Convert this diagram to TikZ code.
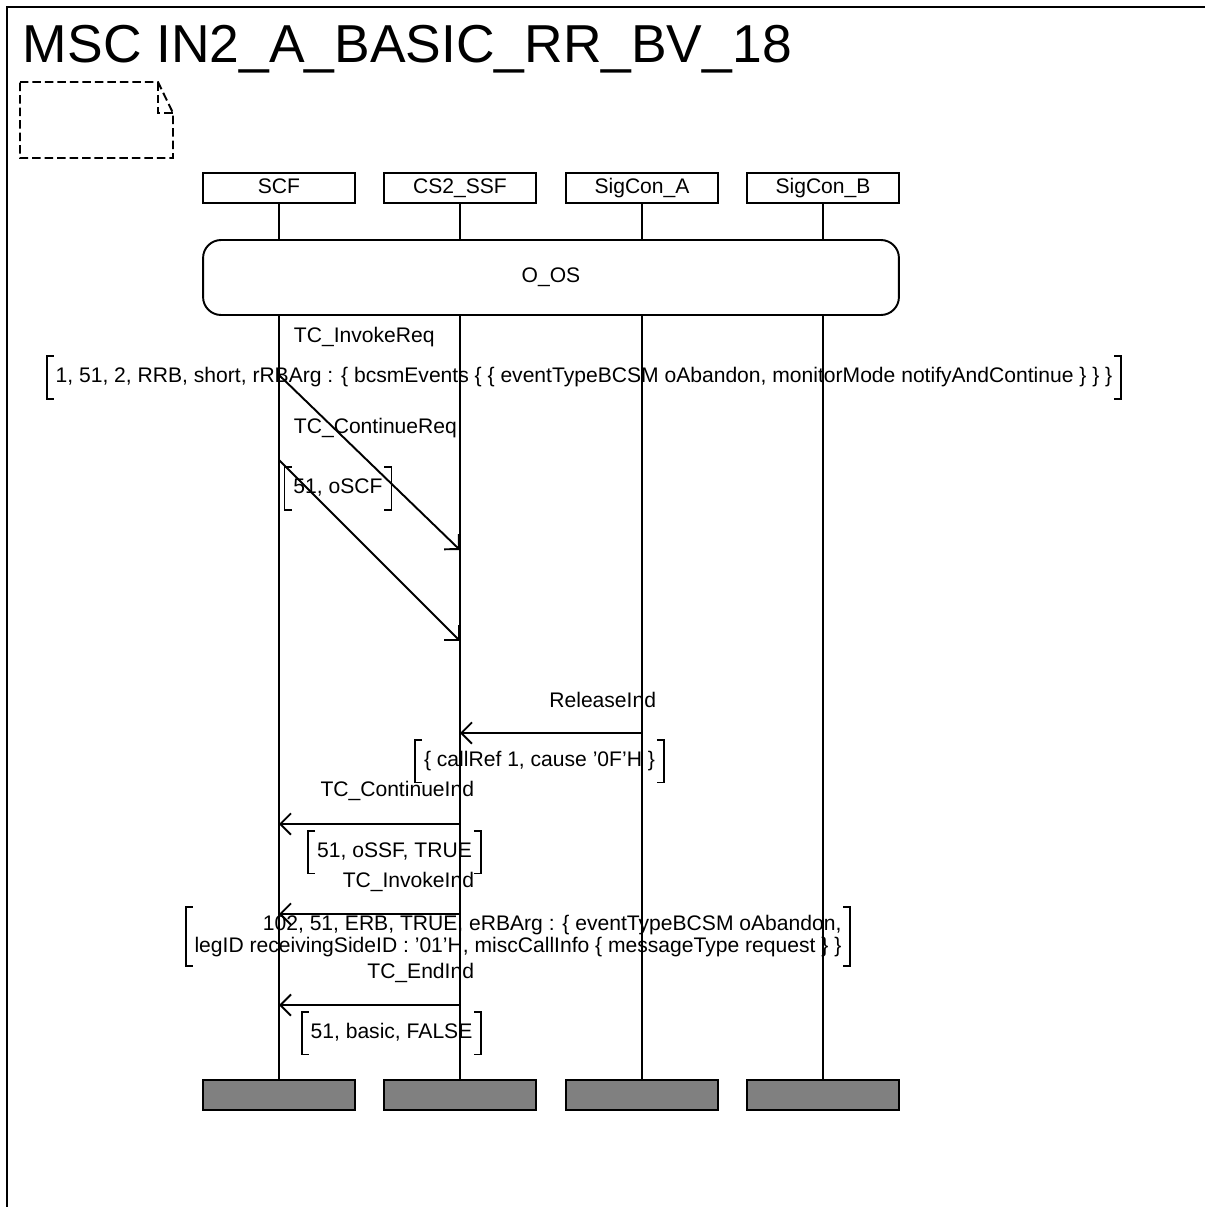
\documentclass[tikz,border=0pt]{standalone}
\usepackage{fontspec}
\setmainfont{Liberation Sans}
\usetikzlibrary{arrows.meta,calc}
\definecolor{endgray}{HTML}{808080}
\newcommand\brk[1]{%
  \draw ($(#1.north west)+(7,0)$) -- (#1.north west) -- (#1.south west) -- ++(7,0);
  \draw ($(#1.north east)+(-7,0)$) -- (#1.north east) -- (#1.south east) -- ++(-7,0);}
\begin{document}
\begin{tikzpicture}[x=0.02cm,y=-0.02cm, line width=1.1pt,
  every node/.style={font=\fontsize{12}{12.5}\selectfont},
  head/.style={draw, minimum width=3.04cm, minimum height=0.6cm, inner sep=0pt, text height=8.6pt, text depth=2.6pt},
  tail/.style={draw, fill=endgray, minimum width=3.04cm, minimum height=0.6cm, inner sep=0pt},
  cond/.style={draw, rounded corners=0.36cm, minimum width=13.92cm, minimum height=1.5cm, inner sep=0pt, text height=8.6pt, text depth=2.6pt},
  msg/.style={-{Straight Barb[angle=90:0.3cm]}},
  lbl/.style={inner sep=0pt},
  param/.style={inner xsep=0.16cm, inner ysep=0pt, minimum height=0.82cm, text height=8.6pt, text depth=2.4pt},
  paramtwo/.style={inner xsep=0.16cm, inner ysep=0pt, minimum height=1.14cm, align=right},
  note/.style={dash pattern=on 0.17cm off 0.08cm, line width=1.1pt}
]
\useasboundingbox (0,0) rectangle (1204,1207);
% frame
\draw (7,1230) -- (7,7) -- (1230,7);
\node[anchor=base west, inner sep=0pt, font=\fontsize{30.4}{30.4}\selectfont] (title) at (22,62) {MSC IN2\_A\_BASIC\_RR\_BV\_18};
% comment symbol
\draw[note] (20,82) -- (158,82) -- (173,113) -- (173,158) -- (20,158) -- cycle;
\draw[note] (158,82) -- (158,113) -- (173,113);
% instance heads
\node[head] (hSCF) at (279,188) {SCF};
\node[head] (hSSF) at (460,188) {CS2\_SSF};
\node[head] (hSA) at (642,188) {SigCon\_A};
\node[head] (hSB) at (823,188) {SigCon\_B};
% condition
\node[cond] (cond) at (551,277.5) {O\_OS};
% instance ends
\node[tail] (tSCF) at (279,1095) {};
\node[tail] (tSSF) at (460,1095) {};
\node[tail] (tSA) at (642,1095) {};
\node[tail] (tSB) at (823,1095) {};
% lifelines
\foreach \n in {SCF,SSF,SA,SB}{
  \draw (h\n.south) -- (h\n.south |- cond.north);
  \draw (h\n.south |- cond.south) -- (t\n.north);
}
% message coordinates
\coordinate (m1a) at (hSCF |- 0,375);  \coordinate (m1b) at (hSSF |- 0,550);
\coordinate (m2a) at (hSCF |- 0,460);  \coordinate (m2b) at (hSSF |- 0,641);
\coordinate (m3a) at (hSA |- 0,733);   \coordinate (m3b) at (hSSF |- 0,733);
\coordinate (m4a) at (hSSF |- 0,824);  \coordinate (m4b) at (hSCF |- 0,824);
\coordinate (m5a) at (hSSF |- 0,914);  \coordinate (m5b) at (hSCF |- 0,914);
\coordinate (m6a) at (hSSF |- 0,1005); \coordinate (m6b) at (hSCF |- 0,1005);
% messages
\draw[msg] (m1a) -- (m1b);
\draw[msg] (m2a) -- (m2b);
\draw[msg] (m3a) -- (m3b);
\draw[msg] (m4a) -- (m4b);
\draw[msg] (m5a) -- (m5b);
\draw[msg] (m6a) -- (m6b);
% labels
\node[lbl, anchor=west] (l1) at (293,337) {TC\_InvokeReq};
\node[lbl, anchor=west] (l2) at (293,428) {TC\_ContinueReq};
\node[lbl, anchor=east] (l3) at (657,700) {ReleaseInd};
\node[lbl, anchor=east] (l4) at (475,791) {TC\_ContinueInd};
\node[lbl, anchor=east] (l5) at (475,882) {TC\_InvokeInd};
\node[lbl, anchor=east] (l6) at (475,973) {TC\_EndInd};
% parameters
\node[param] (p1) at (584,377.5) {1, 51, 2, RRB, short, rRBArg : \{ bcsmEvents \{ \{ eventTypeBCSM oAbandon, monitorMode notifyAndContinue \} \} \}};
\brk{p1}
\node[param] (p2) at (338,488.5) {51, oSCF};
\brk{p2}
\node[param] (p3) at (539.5,761) {\{ callRef 1, cause '0F'H \}};
\brk{p3}
\node[param] (p4) at (394.5,852) {51, oSSF, TRUE};
\brk{p4}
\node[paramtwo] (p5) at (518,936.5) {102, 51, ERB, TRUE, eRBArg : \{ eventTypeBCSM oAbandon,\\legID receivingSideID : '01'H, miscCallInfo \{ messageType request \} \}};
\brk{p5}
\node[param] (p6) at (391.5,1033) {51, basic, FALSE};
\brk{p6}
\end{tikzpicture}
\end{document}
